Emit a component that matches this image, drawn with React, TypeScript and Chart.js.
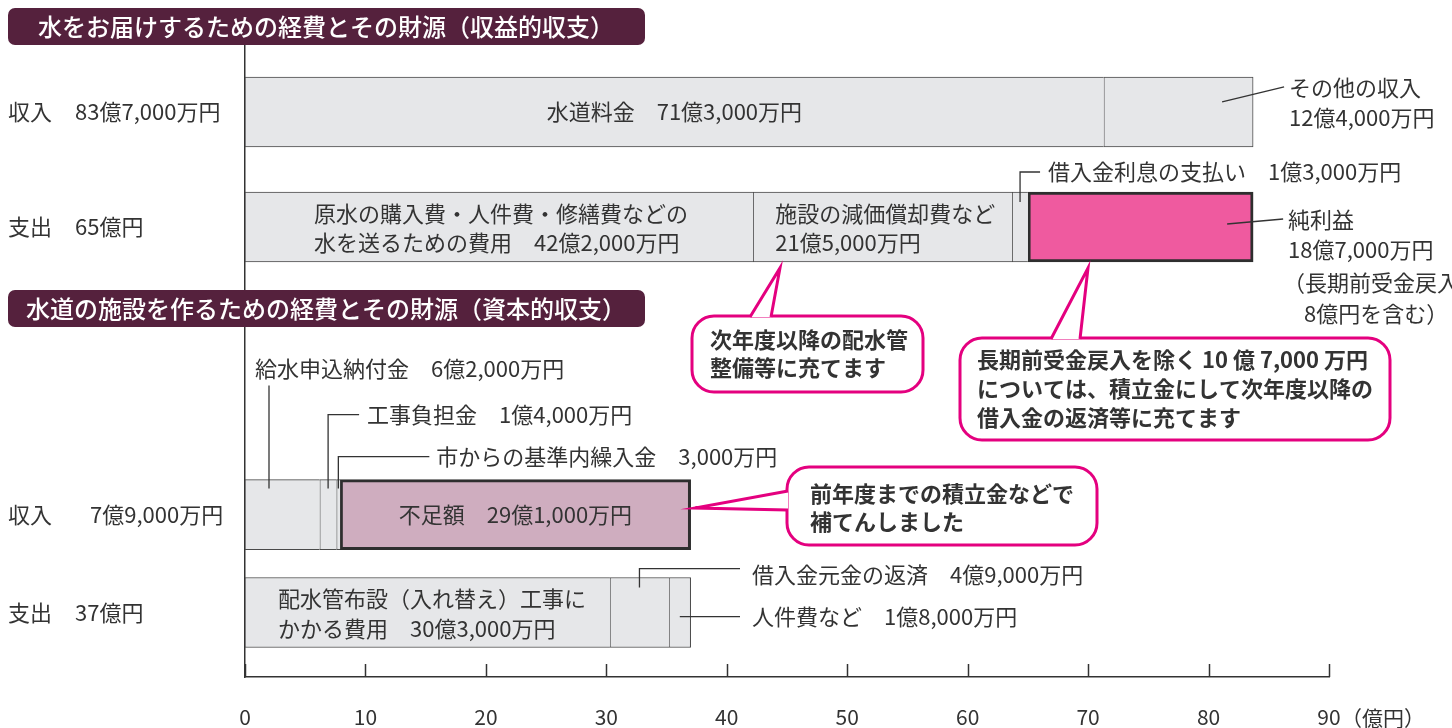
import React, { useEffect, useRef } from 'react';
import { Chart, registerables } from 'chart.js';

Chart.register(...registerables);

const FONT = '"Noto Sans CJK JP", "Noto Sans", sans-serif';
const TEXT = '#333333';
const PINK_LINE = '#e4007f';

// ---- data ----
const sectionTitles = [
  '水をお届けするための経費とその財源（収益的収支）',
  '水道の施設を作るための経費とその財源（資本的収支）',
];
const rowLabels = ['収入', '支出', '収入', '支出'];
const rowAmounts = ['83億7,000万円', '65億円', '7億9,000万円', '37億円'];
const rowPositions = [1.06, 2.88, 7.43, 8.98];

const row1Values = [71.3, 12.4];
const row2Values = [42.2, 21.5, 1.3, 18.7];
const row3Values = [6.2, 1.4, 0.3, 29.1];
const row4Values = [30.3, 4.9, 1.8];
const rowValues = [row1Values, row2Values, row3Values, row4Values];

const xTicks = [0, 10, 20, 30, 40, 50, 60, 70, 80, 90];
const xUnit = '（億円）';

const segRow1Labels = ['水道料金　71億3,000万円', 'その他の収入', '12億4,000万円'];
const segRow2Labels = [
  '原水の購入費・人件費・修繕費などの',
  '水を送るための費用　42億2,000万円',
  '施設の減価償却費など',
  '21億5,000万円',
  '借入金利息の支払い　1億3,000万円',
  '純利益',
  '18億7,000万円',
  '（長期前受金戻入',
  '8億円を含む）',
];
const segRow3Labels = [
  '給水申込納付金　6億2,000万円',
  '工事負担金　1億4,000万円',
  '市からの基準内繰入金　3,000万円',
  '不足額　29億1,000万円',
];
const segRow4Labels = [
  '配水管布設（入れ替え）工事に',
  'かかる費用　30億3,000万円',
  '借入金元金の返済　4億9,000万円',
  '人件費など　1億8,000万円',
];
const callout1Lines = ['次年度以降の配水管', '整備等に充てます'];
const callout2Lines = [
  '長期前受金戻入を除く 10 億 7,000 万円',
  'については、積立金にして次年度以降の',
  '借入金の返済等に充てます',
];
const callout3Lines = ['前年度までの積立金などで', '補てんしました'];

// ---- styles ----
const GRAY_FILL = '#e6e7e9';
const GRAY_LINE = '#4a4a4a';
const highlight: Record<string, string> = { '1-3': '#ef5a9f', '2-3': '#cfadbf' };

function buildDatasets() {
  const ds: any[] = [];
  rowValues.forEach((vals, r) => {
    vals.forEach((v, i) => {
      const key = `${r}-${i}`;
      const hi = highlight[key];
      const last = i === vals.length - 1;
      ds.push({
        label: key,
        data: [{ x: v, y: rowPositions[r] }],
        backgroundColor: hi || GRAY_FILL,
        borderColor: hi ? '#2e2e2e' : GRAY_LINE,
        borderWidth: hi ? 3 : { top: 1, bottom: 1, left: 1, right: last ? 1 : 0 },
        borderSkipped: false,
        barThickness: 70,
      });
    });
  });
  return ds;
}

function rr(ctx: CanvasRenderingContext2D, x: number, y: number, w: number, h: number, r: number) {
  ctx.beginPath();
  ctx.moveTo(x + r, y);
  ctx.lineTo(x + w - r, y);
  ctx.arcTo(x + w, y, x + w, y + r, r);
  ctx.lineTo(x + w, y + h - r);
  ctx.arcTo(x + w, y + h, x + w - r, y + h, r);
  ctx.lineTo(x + r, y + h);
  ctx.arcTo(x, y + h, x, y + h - r, r);
  ctx.lineTo(x, y + r);
  ctx.arcTo(x, y, x + r, y, r);
  ctx.closePath();
}

function callout(
  ctx: CanvasRenderingContext2D,
  box: [number, number, number, number],
  tail: [number, number][],
  lines: string[],
  tx: number,
  ty: number,
  lh: number
) {
  const [x, y, w, h] = box;
  ctx.save();
  ctx.lineWidth = 3;
  ctx.strokeStyle = PINK_LINE;
  ctx.fillStyle = '#ffffff';
  rr(ctx, x, y, w, h, 22);
  ctx.fill();
  ctx.stroke();
  ctx.beginPath();
  ctx.moveTo(tail[0][0], tail[0][1]);
  ctx.lineTo(tail[1][0], tail[1][1]);
  ctx.lineTo(tail[2][0], tail[2][1]);
  ctx.closePath();
  ctx.fill();
  ctx.beginPath();
  ctx.moveTo(tail[0][0], tail[0][1]);
  ctx.lineTo(tail[1][0], tail[1][1]);
  ctx.lineTo(tail[2][0], tail[2][1]);
  ctx.lineJoin = 'miter';
  ctx.stroke();
  ctx.fillStyle = TEXT;
  ctx.font = `bold 22px ${FONT}`;
  ctx.textBaseline = 'middle';
  ctx.textAlign = 'left';
  lines.forEach((l, i) => ctx.fillText(l, tx, ty + i * lh));
  ctx.restore();
}

const overlayPlugin = {
  id: 'overlay',
  afterDraw(chart: any) {
    const { ctx, chartArea, scales } = chart;
    const xs = scales.x;
    const ys = scales.y;
    const xp = (v: number) => xs.getPixelForValue(v);
    const yp = (r: number) => ys.getPixelForValue(rowPositions[r]);
    ctx.save();

    // upward tick marks
    ctx.strokeStyle = '#333';
    ctx.lineWidth = 1.5;
    xs.ticks.forEach((t: any) => {
      const px = Math.round(xp(t.value)) + 0.5;
      ctx.beginPath();
      ctx.moveTo(px, chartArea.bottom);
      ctx.lineTo(px, chartArea.bottom - 13);
      ctx.stroke();
    });
    // unit
    ctx.fillStyle = TEXT;
    ctx.font = `21px ${FONT}`;
    ctx.textBaseline = 'middle';
    ctx.textAlign = 'left';
    ctx.fillText(xUnit, xp(90) + 12, chartArea.bottom + 41);

    // section headers
    const headerY = [8, 290];
    sectionTitles.forEach((t, i) => {
      ctx.fillStyle = '#55213d';
      rr(ctx, 8, headerY[i], 637, 37, 7);
      ctx.fill();
      ctx.fillStyle = '#ffffff';
      ctx.font = `500 24px ${FONT}`;
      ctx.textAlign = 'center';
      ctx.textBaseline = 'middle';
      ctx.fillText(t, 326, headerY[i] + 19);
    });

    // row labels
    const amountX = [75, 75, 90, 75];
    ctx.fillStyle = TEXT;
    ctx.font = `22px ${FONT}`;
    ctx.textAlign = 'left';
    ctx.textBaseline = 'middle';
    rowLabels.forEach((l, r) => {
      ctx.fillText(l, 8, yp(r));
      ctx.fillText(rowAmounts[r], amountX[r], yp(r));
    });

    const text = (s: string, x: number, y: number, align: CanvasTextAlign = 'left') => {
      ctx.textAlign = align;
      ctx.fillText(s, x, y);
    };
    const poly = (pts: [number, number][]) => {
      ctx.beginPath();
      ctx.moveTo(pts[0][0], pts[0][1]);
      for (let i = 1; i < pts.length; i++) ctx.lineTo(pts[i][0], pts[i][1]);
      ctx.stroke();
    };
    ctx.strokeStyle = '#333';
    ctx.lineWidth = 1.3;

    // row 1
    const y0 = yp(0);
    text(segRow1Labels[0], (xp(0) + xp(row1Values[0])) / 2, y0, 'center');
    const end1 = xp(row1Values[0] + row1Values[1]);
    poly([[end1 - 31, y0 - 10], [end1 + 31, y0 - 25]]);
    text(segRow1Labels[1], end1 + 36, y0 - 24);
    text(segRow1Labels[2], end1 + 36, y0 + 6);

    // row 2
    const y1 = yp(1);
    text(segRow2Labels[0], xp(0) + 69, y1 - 13);
    text(segRow2Labels[1], xp(0) + 69, y1 + 16);
    const b2 = xp(row2Values[0]);
    text(segRow2Labels[2], b2 + 22, y1 - 13);
    text(segRow2Labels[3], b2 + 22, y1 + 16);
    const b3 = xp(row2Values[0] + row2Values[1]);
    const b4 = xp(row2Values[0] + row2Values[1] + row2Values[2]);
    const mid3 = (b3 + b4) / 2;
    poly([[mid3, y1 - 25], [mid3, y1 - 55], [mid3 + 20, y1 - 55]]);
    text(segRow2Labels[4], mid3 + 28, y1 - 55);
    const end2 = xp(83.7);
    poly([[end2 - 26, y1 - 3], [end2 + 30, y1 - 8]]);
    text(segRow2Labels[5], end2 + 35, y1 - 7);
    text(segRow2Labels[6], end2 + 35, y1 + 23);
    text(segRow2Labels[7], end2 + 30, y1 + 56);
    text(segRow2Labels[8], end2 + 51, y1 + 87);

    // row 3
    const y2 = yp(2);
    const top3 = y2 - 35;
    const c1 = xp(0) + 24;
    poly([[c1, top3 + 9], [c1, top3 - 94]]);
    text(segRow3Labels[0], xp(0) + 10, top3 - 111);
    const c2 = (xp(row3Values[0]) + xp(row3Values[0] + row3Values[1])) / 2;
    poly([[c2, top3 + 9], [c2, top3 - 65], [c2 + 31, top3 - 65]]);
    text(segRow3Labels[1], c2 + 39, top3 - 65);
    const c3 = (xp(7.6) + xp(7.9)) / 2;
    poly([[c3, top3 + 9], [c3, top3 - 23], [c3 + 91, top3 - 23]]);
    text(segRow3Labels[2], c3 + 98, top3 - 23);
    text(segRow3Labels[3], (xp(7.9) + xp(37)) / 2, y2, 'center');

    // row 4
    const y3 = yp(3);
    text(segRow4Labels[0], xp(0) + 33, y3 - 14);
    text(segRow4Labels[1], xp(0) + 33, y3 + 16);
    const d1 = (xp(30.3) + xp(35.2)) / 2;
    poly([[d1, y3 - 25], [d1, y3 - 44], [740, y3 - 44]]);
    text(segRow4Labels[2], 752, y3 - 38);
    const d2 = (xp(35.2) + xp(37)) / 2;
    poly([[d2, y3 + 4], [740, y3 + 4]]);
    text(segRow4Labels[3], 752, y3 + 4);

    // callouts
    callout(ctx, [692, 316, 231, 76], [[750, 317], [780, 268], [771, 317]], callout1Lines, 710, 340, 28);
    callout(ctx, [960, 338, 430, 102], [[1051, 339], [1088, 268], [1080, 339]], callout2Lines, 977, 360, 29);
    callout(ctx, [787, 467, 310, 78], [[788, 491], [695, 508], [788, 510]], callout3Lines, 810, 494, 28);

    ctx.restore();
  },
};

export default function App() {
  const ref = useRef<HTMLCanvasElement | null>(null);
  useEffect(() => {
    if (!ref.current) return;
    const chart = new Chart(ref.current, {
      type: 'bar',
      data: { datasets: buildDatasets() },
      options: {
        animation: false,
        responsive: false,
        devicePixelRatio: 1,
        indexAxis: 'y',
        layout: { padding: { left: 245, right: 123, top: 45, bottom: 0 } },
        plugins: {
          legend: { display: false },
          tooltip: { enabled: false },
          title: { display: false },
        },
        scales: {
          x: {
            type: 'linear',
            min: 0,
            max: 90,
            stacked: true,
            position: 'bottom',
            grid: { display: false, drawTicks: false },
            border: { display: true, color: '#333', width: 1.5 },
            afterBuildTicks: (axis: any) => {
              axis.ticks = xTicks.map((v) => ({ value: v }));
            },
            afterFit: (axis: any) => {
              axis.height = 51;
            },
            ticks: {
              padding: 27,
              color: TEXT,
              font: { family: FONT, size: 21, lineHeight: 1.2 },
              maxRotation: 0,
              autoSkip: false,
              callback: (v: any) => String(v),
            },
          },
          y: {
            type: 'linear',
            min: 0,
            max: 10,
            reverse: true,
            stacked: true,
            offset: false,
            grid: { display: false, drawTicks: false, offset: false },
            border: { display: true, color: '#333', width: 1.5 },
            ticks: { display: false },
          },
        },
      } as any,
      plugins: [overlayPlugin],
    });
    return () => chart.destroy();
  }, []);
  return (
    <div style={{ position: 'fixed', left: 0, top: 0, width: 1452, height: 728, background: '#fff' }}>
      <canvas ref={ref} width={1452} height={728} style={{ width: 1452, height: 728, display: 'block' }} />
    </div>
  );
}
